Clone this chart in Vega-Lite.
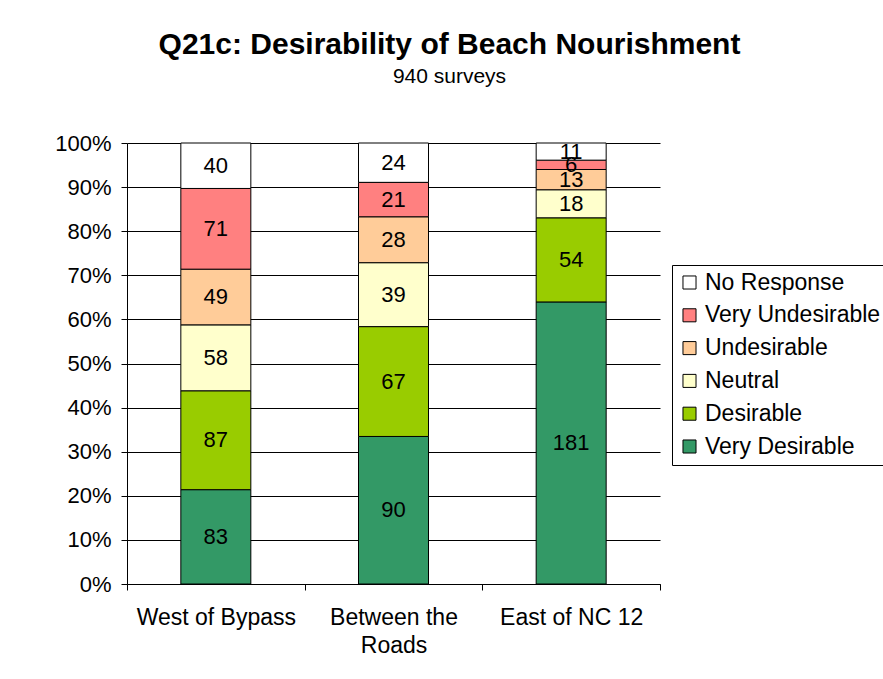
{
  "$schema": "https://vega.github.io/schema/vega-lite/v6.json",
  "width": 533,
  "height": 441,
  "autosize": "none",
  "padding": {"left": 127, "top": 143, "right": 223, "bottom": 95},
  "background": "white",
  "title": {
    "text": "Q21c: Desirability of Beach Nourishment",
    "subtitle": "940 surveys",
    "font": "Liberation Sans",
    "fontSize": 30,
    "fontWeight": "bold",
    "subtitleFont": "Liberation Sans",
    "subtitleFontSize": 21,
    "subtitlePadding": 6,
    "color": "black",
    "subtitleColor": "black",
    "anchor": "middle",
    "dx": 56,
    "offset": 45
  },
  "data": {
    "values": [
      {"region": "West of Bypass", "response": "Very Desirable", "order": 1, "count": 83},
      {"region": "West of Bypass", "response": "Desirable", "order": 2, "count": 87},
      {"region": "West of Bypass", "response": "Neutral", "order": 3, "count": 58},
      {"region": "West of Bypass", "response": "Undesirable", "order": 4, "count": 49},
      {"region": "West of Bypass", "response": "Very Undesirable", "order": 5, "count": 71},
      {"region": "West of Bypass", "response": "No Response", "order": 6, "count": 40},
      {"region": "Between the Roads", "response": "Very Desirable", "order": 1, "count": 90},
      {"region": "Between the Roads", "response": "Desirable", "order": 2, "count": 67},
      {"region": "Between the Roads", "response": "Neutral", "order": 3, "count": 39},
      {"region": "Between the Roads", "response": "Undesirable", "order": 4, "count": 28},
      {"region": "Between the Roads", "response": "Very Undesirable", "order": 5, "count": 21},
      {"region": "Between the Roads", "response": "No Response", "order": 6, "count": 24},
      {"region": "East of NC 12", "response": "Very Desirable", "order": 1, "count": 181},
      {"region": "East of NC 12", "response": "Desirable", "order": 2, "count": 54},
      {"region": "East of NC 12", "response": "Neutral", "order": 3, "count": 18},
      {"region": "East of NC 12", "response": "Undesirable", "order": 4, "count": 13},
      {"region": "East of NC 12", "response": "Very Undesirable", "order": 5, "count": 6},
      {"region": "East of NC 12", "response": "No Response", "order": 6, "count": 11}
    ]
  },
  "transform": [
    {"stack": "count", "groupby": ["region"], "sort": [{"field": "order"}], "as": ["y0", "y1"], "offset": "normalize"},
    {"calculate": "(datum.y0 + datum.y1) / 2", "as": "ymid"}
  ],
  "encoding": {
    "x": {
      "field": "region",
      "type": "nominal",
      "sort": ["West of Bypass", "Between the Roads", "East of NC 12"],
      "scale": {"paddingInner": 0, "paddingOuter": 0},
      "title": null,
      "axis": {
        "labelAngle": 0,
        "labelFont": "Liberation Sans",
        "labelFontSize": 23,
        "labelColor": "black",
        "labelPadding": 16,
        "labelLineHeight": 28,
        "labelBaseline": "top",
        "labelExpr": "datum.label == 'Between the Roads' ? ['Between the', 'Roads'] : datum.label",
        "tickBand": "extent",
        "tickColor": "black",
        "tickSize": 6,
        "domainColor": "black",
        "grid": false
      }
    }
  },
  "layer": [
    {
      "mark": {"type": "bar", "size": 70, "stroke": "black", "strokeWidth": 1},
      "encoding": {
        "y": {
          "field": "y0",
          "type": "quantitative",
          "scale": {"domain": [0, 1]},
          "title": null,
          "axis": {
            "format": ".0%",
            "values": [0, 0.1, 0.2, 0.3, 0.4, 0.5, 0.6, 0.7, 0.8, 0.9, 1],
            "labelFont": "Liberation Sans",
            "labelFontSize": 22,
            "labelColor": "black",
            "labelPadding": 10,
            "tickColor": "black",
            "tickSize": 6,
            "domainColor": "black",
            "grid": true,
            "gridColor": "black",
            "gridOpacity": 1,
            "gridWidth": 1
          }
        },
        "y2": {"field": "y1"},
        "color": {
          "field": "response",
          "type": "nominal",
          "scale": {
            "domain": ["No Response", "Very Undesirable", "Undesirable", "Neutral", "Desirable", "Very Desirable"],
            "range": ["#FFFFFF", "#FF8080", "#FFCC99", "#FFFFCC", "#99CC00", "#339966"]
          },
          "legend": {
            "title": null,
            "orient": "none",
            "legendX": 545,
            "legendY": 122,
            "symbolType": "square",
            "symbolSize": 170,
            "symbolStrokeColor": "black",
            "symbolStrokeWidth": 1,
            "symbolOpacity": 1,
            "labelFont": "Liberation Sans",
            "labelFontSize": 23,
            "labelColor": "black",
            "labelOffset": 4,
            "rowPadding": 8.8,
            "padding": 6,
            "strokeColor": "black",
            "fillColor": "white",
            "labelLimit": 300
          }
        }
      }
    },
    {
      "mark": {"type": "text", "font": "Liberation Sans", "fontSize": 22, "color": "black", "baseline": "middle"},
      "encoding": {
        "y": {"field": "ymid", "type": "quantitative"},
        "text": {"field": "count", "type": "quantitative"}
      }
    }
  ],
  "config": {
    "view": {"stroke": null},
    "axis": {"domainWidth": 1, "tickWidth": 1}
  }
}
